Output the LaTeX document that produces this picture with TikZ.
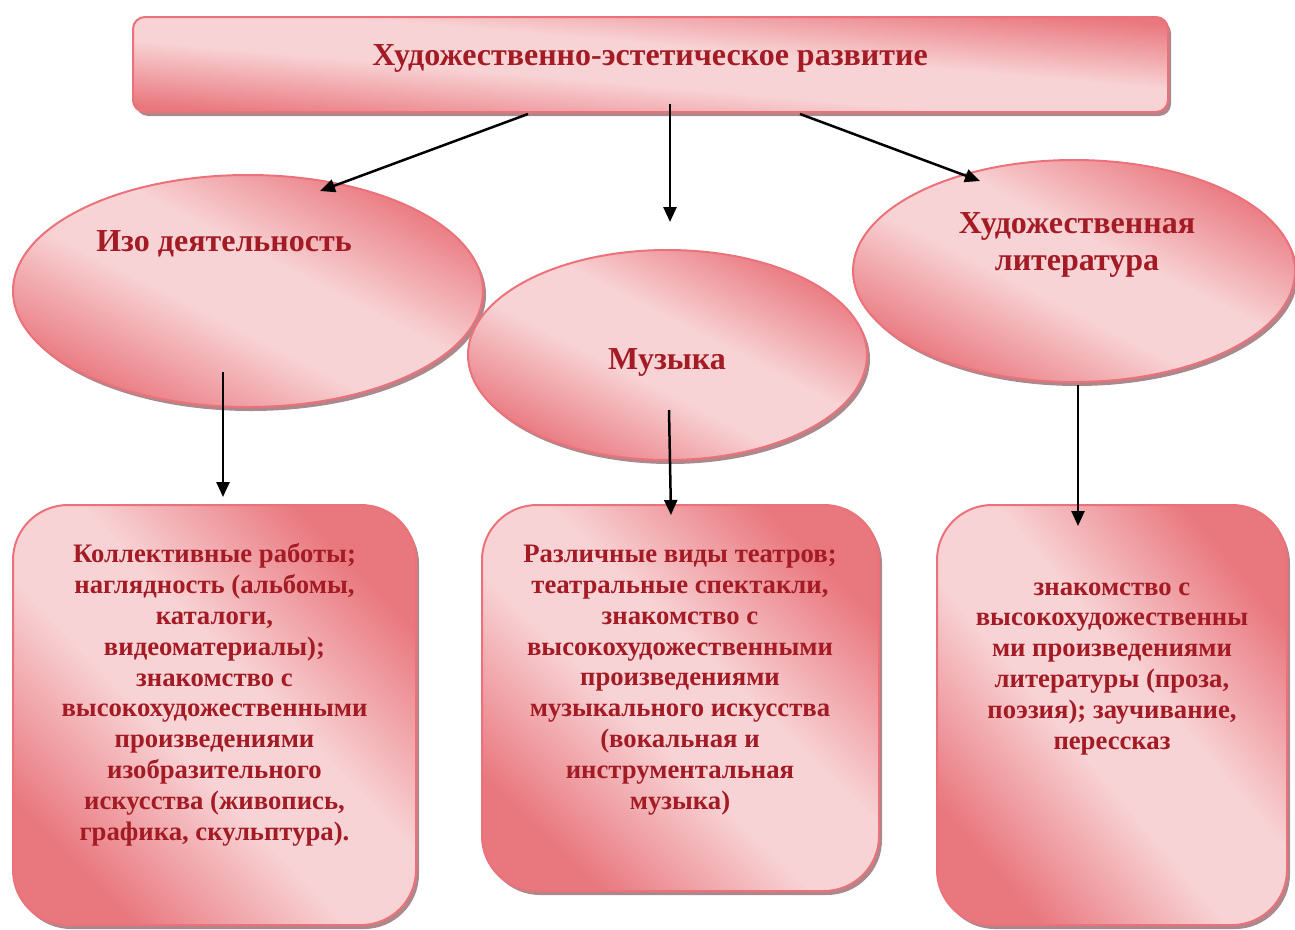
\documentclass[tikz,border=0pt]{standalone}
\usepackage{fontspec}
\setmainfont{Liberation Serif}
\usetikzlibrary{positioning, shapes.geometric, shadows, arrows.meta}

\definecolor{pinkdark}{RGB}{233,119,126}
\definecolor{pinklight}{RGB}{248,211,213}
\definecolor{pinkline}{RGB}{235,114,122}
\definecolor{redtext}{RGB}{163,27,36}
\definecolor{shadowgray}{RGB}{172,136,140}

\pgfdeclareverticalshading{pinkshade}{100bp}{color(0bp)=(pinkdark); color(25bp)=(pinkdark); color(44bp)=(pinklight); color(56bp)=(pinklight); color(75bp)=(pinkdark); color(100bp)=(pinkdark)}

\tikzset{
  pinkfill/.style={draw=pinkline, line width=2pt, shade, shading=pinkshade, shading angle=#1,
    drop shadow={shadow xshift=3pt, shadow yshift=-4pt, fill=shadowgray, opacity=1}},
  headbox/.style={pinkfill=-5, rounded corners=12pt, minimum width=1035pt, minimum height=95pt},
  area/.style={pinkfill=-27, ellipse, inner sep=0pt},
  infobox/.style={pinkfill=#1, rounded corners=55pt},
  head/.style={font=\fontsize{32}{37}\selectfont\bfseries, text=redtext, align=center, inner sep=0pt},
  info/.style={font=\fontsize{26.7}{30.8}\selectfont\bfseries, text=redtext, align=center, inner sep=0pt},
  link/.style={->, >={Triangle[length=15pt, width=13pt]}, line width=2.5pt}
}

\begin{document}
\begin{tikzpicture}[x=1pt, y=-1pt]
\useasboundingbox (0,0) rectangle (1295,929);

% shapes
\node[headbox] (top) at (650.5,64.5) {};
\node[area, minimum width=470pt, minimum height=232pt] (izo) at (248,291) {};
\node[area, minimum width=442pt, minimum height=222pt] (lit) at (1074,271) {};
\node[area, minimum width=399pt, minimum height=210pt] (music) at (667.5,355) {};
\node[infobox=-46, minimum width=403pt, minimum height=420pt] (izobox) at (214.5,715) {};
\node[infobox=-44, minimum width=397pt, minimum height=386pt] (musicbox) at (680.5,698) {};
\node[infobox=-50, minimum width=350pt, minimum height=420pt] (litbox) at (1112,715) {};

% texts (base = last line)
\node[head, anchor=base] (toptext) at (650,65) {Художественно-эстетическое развитие};
\node[head, anchor=base] (izotext) at (224,251) {Изо деятельность};
\node[head, anchor=base] (littext) at (1077,270) {Художественная\\литература};
\node[head, anchor=base] (musictext) at (667,369) {Музыка};

\node[info, anchor=base] (izoinfo) at (214.5,840) {Коллективные работы;\\наглядность (альбомы,\\каталоги,\\видеоматериалы);\\знакомство с\\высокохудожественными\\произведениями\\изобразительного\\искусства (живопись,\\графика, скульптура).};
\node[info, anchor=base] (musicinfo) at (680,809) {Различные виды театров;\\театральные спектакли,\\знакомство с\\высокохудожественными\\произведениями\\музыкального искусства\\(вокальная и\\инструментальная\\музыка)};
\node[info, anchor=base] (litinfo) at (1112,749) {знакомство с\\высокохудожественны\\ми произведениями\\литературы (проза,\\поэзия); заучивание,\\перессказ};

% arrows
\coordinate (a1) at (528,114);
\coordinate (a1e) at (320,191);
\coordinate (a2) at (670,104);
\coordinate (a2e) at (670,222);
\coordinate (a3) at (800,114);
\coordinate (a3e) at (980,181);
\coordinate (b1) at (223,372);
\coordinate (b1e) at (223,497);
\coordinate (b2) at (669,410);
\coordinate (b2e) at (671,515);
\coordinate (b3) at (1078,385);
\coordinate (b3e) at (1078,526);

\draw[link] (a1) -- (a1e);
\draw[link] (a2) -- (a2e);
\draw[link] (a3) -- (a3e);
\draw[link] (b1) -- (b1e);
\draw[link] (b2) -- (b2e);
\draw[link] (b3) -- (b3e);

\end{tikzpicture}
\end{document}
